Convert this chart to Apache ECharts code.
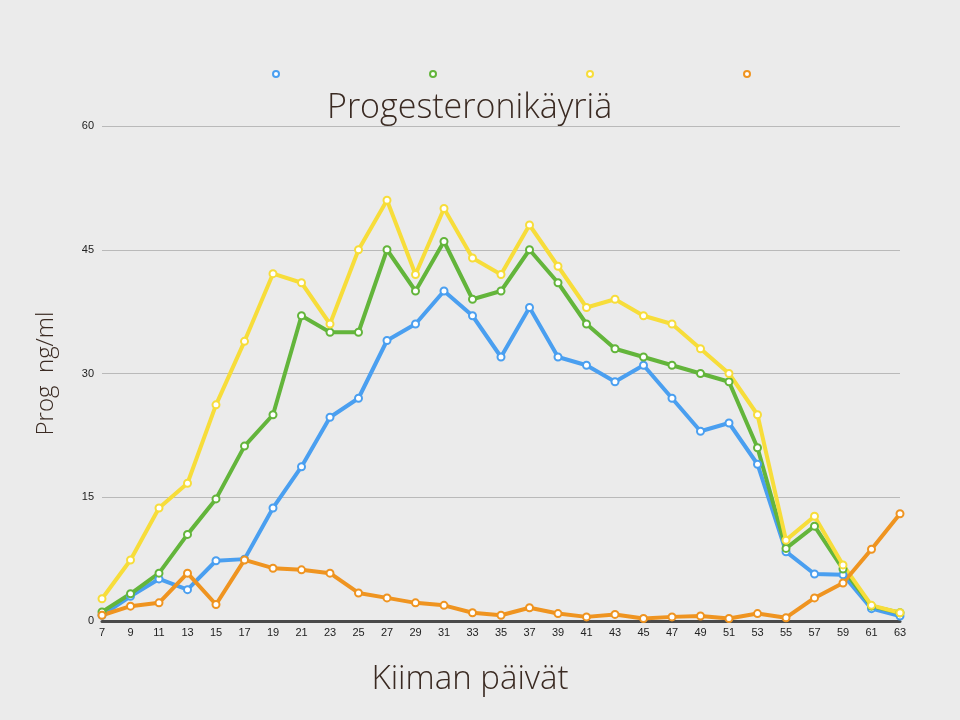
<!DOCTYPE html>
<html>
<head>
<meta charset="utf-8">
<script src="https://cdn.jsdelivr.net/npm/echarts@6/dist/echarts.min.js"></script>
<style>
html,body{margin:0;padding:0;background:#ebebeb;}
#chart{width:960px;height:720px;}
</style>
</head>
<body>
<div id="chart"></div>
<script>
const days = [7,9,11,13,15,17,19,21,23,25,27,29,31,33,35,37,39,41,43,45,47,49,51,53,55,57,59,61,63];
const yTicks = [0,15,30,45,60];
const blueValues = [0.7,3.0,5.1,3.8,7.3,7.5,13.7,18.7,24.7,27,34,36,40,37,32,38,32,31,29,31,27,23,24,19,8.4,5.7,5.6,1.5,0.6];
const greenValues = [1.1,3.3,5.8,10.5,14.8,21.2,25,37,35,35,45,40,46,39,40,45,41,36,33,32,31,30,29,21,8.8,11.5,6.3,1.8,1.0];
const yellowValues = [2.7,7.4,13.7,16.7,26.2,33.9,42.1,41,36,45,51,42,50,44,42,48,43,38,39,37,36,33,30,25,9.8,12.7,6.8,1.9,1.0];
const orangeValues = [0.7,1.8,2.2,5.8,2.0,7.4,6.4,6.2,5.8,3.4,2.8,2.2,1.9,1.0,0.7,1.6,0.9,0.5,0.8,0.3,0.5,0.6,0.3,0.9,0.4,2.8,4.6,8.7,13.0];
const seriesNames = ['A','B','C','D'];
const colors = ['#4a9ff0','#63b53b','#f7dd3a','#ef9420'];

const chart = echarts.init(document.getElementById('chart'));
const mk = (name, data, color) => ({
  name, type:'line', data, color,
  symbol:'emptyCircle', symbolSize:7,
  lineStyle:{width:4, color},
  itemStyle:{color, borderWidth:2, borderColor:color},
  z: 2
});
chart.setOption({
  backgroundColor:'#ebebeb',
  animation:false,
  title:{
    text:'Progesteronikäyriä', top:91, left:327,
    textStyle:{fontFamily:'Open Sans', fontWeight:300, fontSize:34, color:'#3a2a22'},
    padding:0
  },
  legend:{
    top:65, left:267, itemGap:149, itemWidth:6, itemHeight:6,
    icon:'emptyCircle',
    formatter:()=>'',
    data:seriesNames.map(n=>({name:n, icon:'emptyCircle'}))
  },
  grid:{left:102, right:60, top:126, bottom:99, containLabel:false},
  xAxis:{
    type:'category', data:days, boundaryGap:false,
    name:'Kiiman päivät', nameLocation:'middle', nameGap:42,
    nameTextStyle:{fontFamily:'Open Sans', fontWeight:300, fontSize:33, color:'#3a2a22', padding:[0,62,0,0]},
    axisLine:{lineStyle:{color:'#4a4a4a', width:3}},
    axisTick:{show:false},
    axisLabel:{color:'#222', fontSize:11, fontFamily:'Liberation Sans', margin:6}
  },
  yAxis:{
    type:'value', min:0, max:60, interval:15,
    name:'Prog  ng/ml', nameLocation:'middle', nameGap:44, nameRotate:90,
    nameTextStyle:{fontFamily:'Open Sans', fontWeight:300, fontSize:24, color:'#3a2a22', align:'center'},
    axisLine:{show:false}, axisTick:{show:false},
    axisLabel:{color:'#222', fontSize:11, fontFamily:'Liberation Sans', margin:8,
      formatter:v=>yTicks.includes(v)?String(v):''},
    splitLine:{lineStyle:{color:'#b9b9b9', width:1}}
  },
  series:[
    mk(seriesNames[0], blueValues, colors[0]),
    mk(seriesNames[1], greenValues, colors[1]),
    mk(seriesNames[2], yellowValues, colors[2]),
    mk(seriesNames[3], orangeValues, colors[3])
  ]
});
</script>
</body>
</html>
